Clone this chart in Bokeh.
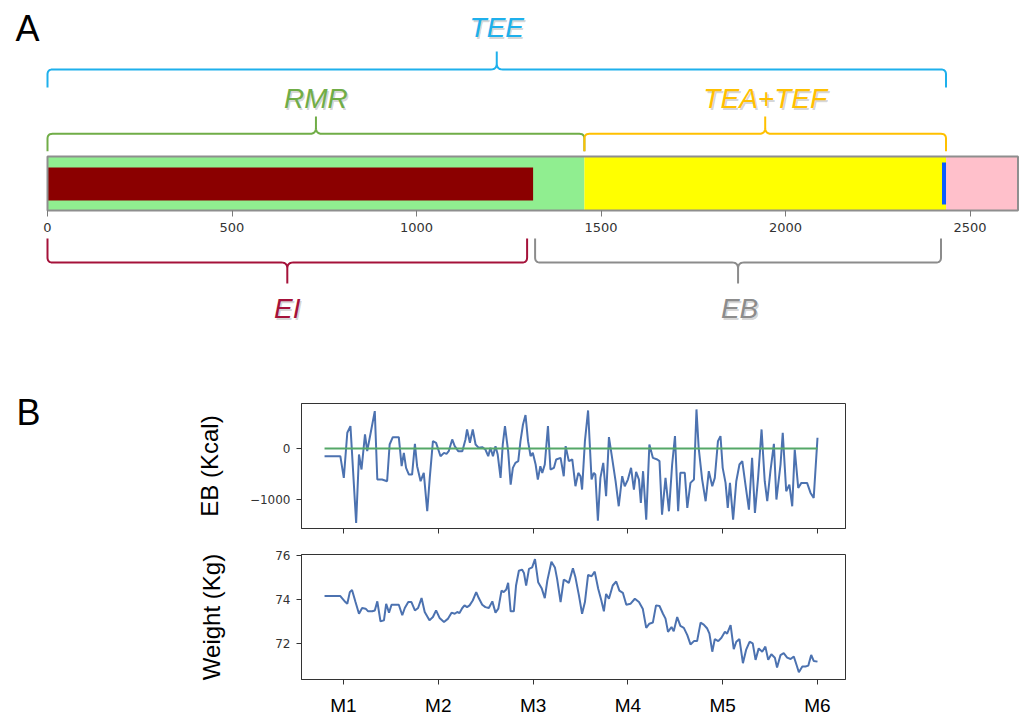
import numpy as np
from bokeh.plotting import figure
from bokeh.models import Range1d, FixedTicker, ColumnDataSource, Spacer
from bokeh.layouts import column, row
from bokeh.embed import file_html
from bokeh.resources import INLINE
from bokeh.core.properties import value

# ---------------- Panel A values (kcal) ----------------
EI = 1316          # energy intake
RMR = 1455         # resting metabolic rate
TEE = 2435         # total energy expenditure (RMR + TEA + TEF)
AXIS_MAX = 2630    # right end of the bar axis
a_ticks = [0, 500, 1000, 1500, 2000, 2500]

# ---------------- Panel B values ----------------
month_days = [0, 30, 60, 90, 120, 150]
month_labels = ["M1", "M2", "M3", "M4", "M5", "M6"]

eb_day = [-6.0, -1.0, 0.1, 1.2, 2.2, 4.0, 4.9, 5.7, 6.8, 7.5, 8.2, 9.9, 10.7, 12.2, 13.8, 14.6,
          15.6, 17.5, 18.4, 19.1, 19.8, 20.7, 21.7, 22.6, 23.3, 24.4, 25.4, 26.5, 27.3, 28.3, 29.3,
          30.7, 31.8, 32.6, 33.3, 34.4, 35.2, 36.3, 37.6, 38.6, 39.1, 40.0, 40.9, 41.8, 42.8, 43.9,
          44.9, 45.8, 46.5, 47.3, 48.1, 48.8, 49.7, 50.4, 51.1, 52.1, 52.9, 53.6, 54.4, 55.3, 56.0,
          56.8, 57.6, 58.4, 59.2, 59.9, 60.8, 61.5, 62.3, 62.9, 63.7, 64.7, 65.5, 66.6, 67.3, 68.7,
          69.7, 70.3, 71.3, 72.4, 73.4, 74.3, 75.0, 75.5, 76.4, 77.4, 78.5, 79.2, 79.7, 80.5, 81.3,
          82.2, 83.1, 84.0, 85.0, 86.1, 87.1, 88.2, 89.0, 90.0, 91.0, 91.9, 92.6, 93.5, 94.1, 94.8,
          95.8, 96.8, 97.9, 99.3, 100.0, 100.8, 101.9, 103.0, 104.0, 104.9, 105.9, 106.6, 108.0,
          108.8, 109.8, 110.9, 111.7, 112.4, 113.5, 114.6, 115.6, 116.7, 117.5, 118.5, 119.3, 120.0,
          120.9, 121.6, 122.3, 123.3, 124.3, 125.3, 126.2, 127.2, 128.3, 129.3, 130.2, 131.2, 132.3,
          133.3, 134.1, 135.1, 136.2, 137.0, 138.3, 139.0, 140.1, 141.1, 142.0, 142.8, 143.9, 144.9,
          146.7, 147.8, 148.8, 150.0]
eb_kcal = [-152, -152, -580, 310, 442, -1470, -119, -415, 277, -53, 178, 738, -613, -613, -646, 79,
           224, 224, -349, -86, -382, -514, -514, 92, -349, -646, -481, -1239, -580, 145, 112,
           -152, -86, -105, -53, 178, 46, -53, -53, 178, 376, 112, 376, 79, 13, 26,
           -20, -152, 13, -152, 46, -119, -580, 79, 442, -53, -712, -382, -283, -250, 145,
           474, 659, 145, -152, -86, -316, -613, -349, -481, -316, 442, -415, -382, -217, -185,
           -547, 46, -250, -217, -745, -481, -547, -810, 145, 751, -613, -481, -514, -1423, -580,
           -283, -942, 224, -185, -646, -1140, -547, -745, -613, -382, -810, -461, -613, -1074, -448,
           -1404, 79, -185, -217, -250, -1305, -580, -1239, -316, 244, -1239, -481, -481,
           -1173, -679, -613, 771, 13, -613, -1041, -448, -745, -580, 145, 244, -382,
           -679, -1173, -679, -1404, -646, -316, -250, -712, -1206, -185, -1272, -580, 376,
           -646, -1041, -448, 92, -1008, -316, 310, -844, -712, -1140, -20, -778, -679,
           -679, -877, -975, 211]

wt_day = [-6.0, -1.0, 0.6, 1.2, 2.0, 2.7, 3.8, 4.9, 5.9, 7.0, 7.8, 9.1, 9.9, 10.7, 11.7, 12.8,
          13.5, 14.4, 15.2, 16.3, 17.5, 18.6, 19.4, 20.5, 21.5, 22.6, 23.6, 24.7, 25.7, 27.2, 28.3,
          29.3, 30.4, 31.8, 33.1, 34.2, 35.2, 36.0, 36.7, 37.6, 38.3, 39.1, 39.9, 40.9, 42.0, 42.8,
          43.9, 44.9, 46.0, 47.1, 48.1, 49.0, 50.0, 50.7, 51.5, 52.1, 52.9, 53.9, 54.6, 55.5, 56.5,
          57.1, 57.8, 58.7, 59.7, 60.6, 61.6, 62.7, 63.7, 64.5, 65.8, 66.9, 67.6, 68.7, 69.7,
          70.3, 71.3, 72.6, 73.4, 74.5, 75.5, 76.4, 77.4, 78.5, 79.5, 80.6, 81.6, 82.4, 83.1, 84.0,
          85.2, 86.3, 87.3, 88.4, 89.5, 90.8, 92.2, 93.5, 94.7, 95.8, 96.8, 97.9, 98.9, 100.0, 101.1,
          101.9, 102.7, 103.8, 104.5, 105.6, 106.6, 107.7, 108.8, 109.8, 110.9, 111.9, 113.0, 114.0,
          115.1, 115.8, 116.7, 117.5, 118.6, 119.6, 120.7, 121.4, 122.5, 123.5, 124.3, 125.3, 126.4,
          127.4, 128.5, 129.5, 130.4, 131.4, 132.5, 133.5, 134.4, 135.4, 136.5, 137.2, 138.3, 139.3,
          140.4, 141.5, 142.5, 143.3, 144.1, 145.2, 146.2, 147.1, 148.0, 148.8, 150.0]
wt_kg = [74.16, 74.16, 73.89, 73.81, 74.34, 74.44, 73.89, 73.36, 73.62, 73.59, 73.47, 73.47, 73.51,
         73.92, 73.02, 73.06, 73.81, 73.41, 73.77, 73.77, 73.77, 73.29, 73.62, 73.89, 73.89, 73.51,
         73.62, 74.07, 73.44, 73.06, 73.21, 73.51, 73.17, 72.99, 73.14, 73.41, 73.36, 73.44, 73.39,
         73.62, 73.74, 73.66, 73.74, 73.96, 74.34, 74.07, 73.77, 73.66, 73.62, 73.92, 73.41, 73.59,
         74.41, 74.34, 74.46, 74.76, 73.47, 73.47, 74.64, 75.31, 75.36, 75.21, 74.64, 75.39, 75.46,
         75.84, 74.79, 74.52, 74.07, 74.86, 75.72, 75.46, 74.94, 73.89, 74.91,
         74.86, 74.76, 75.42, 75.01, 74.19, 73.36, 73.89, 75.12, 75.06, 75.27, 74.49, 73.96, 73.47,
         74.26, 74.04, 74.64, 74.82, 74.41, 74.31, 73.77, 73.81, 74.04, 73.89, 73.59, 72.72, 72.91,
         72.96, 73.74, 73.71, 73.36, 73.14, 72.54, 72.76, 72.57, 73.21, 72.81, 72.72, 72.39, 71.97,
         72.12, 72.12, 72.96, 72.87, 72.69, 72.46, 71.64, 72.21, 72.12, 72.27, 72.54, 72.46, 72.84,
         71.76, 72.09, 72.21, 71.12, 71.72, 72.09, 72.02, 71.27, 71.79, 71.64, 71.87, 71.27, 71.52,
         71.37, 70.92, 71.49, 71.57, 71.37, 71.31, 71.42, 71.07, 70.71, 70.97, 70.97, 71.01, 71.49,
         71.22, 71.19]
eb_ticks = [-1000, 0]
wt_ticks = [72, 74, 76]

# ---------------- colours ----------------
C_TEE = "#1EB0EC"
C_RMR = "#70AD47"
C_TEA = "#FFC000"
C_EI = "#A5123A"
C_EB = "#8C8C8C"
BLUE = "#4C72B0"
GREEN = "#55A868"

# ================= Panel A =================
KX = 1 / 0.369   # kcal per screen pixel in panel A
pa = figure(width=1022, height=340, x_range=Range1d(-47 * KX, (1022 - 47) * KX),
            y_range=Range1d(340, 0), output_backend="svg", toolbar_location=None,
            y_axis_location=None, min_border=0)
pa.frame_align = False
pa.outline_line_color = None
pa.grid.visible = False

# stacked bar
pa.hbar(y=183, left=0, right=RMR, height=54, fill_color="#90EE90", line_color=None)
pa.hbar(y=183, left=RMR, right=TEE, height=54, fill_color="#FFFF00", line_color=None)
pa.hbar(y=183, left=TEE, right=AXIS_MAX, height=54, fill_color="#FFC0CB", line_color=None)
pa.hbar(y=183.6, left=0, right=EI, height=33, fill_color="#8B0000", line_color=None)
pa.segment(x0=[TEE - 2 * KX], x1=[TEE - 2 * KX], y0=[162], y1=[204], line_color="#0A5CFF", line_width=4)
pa.hbar(y=183, left=0, right=AXIS_MAX, height=54, fill_color=None, line_color="#8E8E8E", line_width=2)

ax = pa.xaxis[0]
ax.fixed_location = 210
ax.ticker = FixedTicker(ticks=a_ticks)
ax.axis_line_color = None
ax.major_tick_line_color = "#7a7a7a"
ax.major_tick_out = 6
ax.major_tick_in = 0
ax.minor_tick_line_color = None
ax.major_label_text_font = "DejaVu Sans"
ax.major_label_text_font_size = "13px"
ax.major_label_text_color = "#333333"
ax.major_label_standoff = 6


def quad(p0, c, p2, n=8):
    t = np.linspace(0, 1, n)
    x = (1 - t) ** 2 * p0[0] + 2 * (1 - t) * t * c[0] + t ** 2 * p2[0]
    y = (1 - t) ** 2 * p0[1] + 2 * (1 - t) * t * c[1] + t ** 2 * p2[1]
    return list(x), list(y)


def brace(x0, x1, h, arm, tip, d, r=5, s=6):
    c = (x0 + x1) / 2
    xs, ys = [x0], [h + d * arm]

    def add(p0, ctrl, p2):
        qx, qy = quad(p0, ctrl, p2)
        xs.extend(qx)
        ys.extend(qy)

    add((x0, h + d * r), (x0, h), (x0 + r * KX, h))
    add((c - s * KX, h), (c, h), (c, h - d * s))
    xs.append(c)
    ys.append(h - d * tip)
    add((c, h - d * s), (c, h), (c + s * KX, h))
    add((x1 - r * KX, h), (x1, h), (x1, h + d * r))
    xs.append(x1)
    ys.append(h + d * arm)
    return xs, ys


braces = [
    (0, TEE, 69, 18, 18, 1, C_TEE),
    (0, RMR, 133.3, 17.4, 17.3, 1, C_RMR),
    (RMR, TEE, 133.3, 17.4, 17.3, 1, C_TEA),
    (0, EI - 6 * KX, 262, 24, 21, -1, C_EI),
    (EI + 2 * KX, TEE - 5 * KX, 262, 24, 21, -1, C_EB),
]
for x0, x1, h, arm, tip, d, col in braces:
    bx, by = brace(x0, x1, h, arm, tip, d)
    pa.line(bx, by, line_color=col, line_width=2)

lab = ColumnDataSource(dict(
    x=[TEE / 2, RMR / 2, (RMR + TEE) / 2, (EI - 6 * KX) / 2, (EI + TEE) / 2],
    y=[27, 98, 98, 308, 308],
    t=["TEE", "RMR", "TEA+TEF", "EI", "EB"],
    c=[C_TEE, C_RMR, C_TEA, C_EI, C_EB],
))
pa.text(x="x", y="y", text="t", source=lab, text_color="#000000", text_alpha=0.18,
        x_offset=1.5, y_offset=1.5, text_font=value("Liberation Sans"), text_font_style="italic",
        text_font_size="28px", text_align="center", text_baseline="middle")
pa.text(x="x", y="y", text="t", source=lab, text_color="c",
        text_font=value("Liberation Sans"), text_font_style="italic",
        text_font_size="28px", text_align="center", text_baseline="middle")
pa.text(x=[-47 * KX], y=[28], text=["A"], x_offset=15, text_font=value("Liberation Sans"),
        text_font_size="36px", text_color="black", text_align="left", text_baseline="middle")

# ================= Panel B =================
LW = 60              # width of the strip that holds the "B" letter
MPX = 94.8 / 30      # screen pixels per day
XR = (-(343 - 301) / MPX, (845 - 343) / MPX)

pl = figure(width=LW, height=210, x_range=Range1d(0, LW), y_range=Range1d(210, 0),
            output_backend="svg", toolbar_location=None, min_border=0,
            x_axis_location=None, y_axis_location=None)
pl.frame_align = False
pl.outline_line_color = None
pl.grid.visible = False
pl.text(x=[16], y=[72], text=["B"], text_font=value("Liberation Sans"), text_font_size="36px",
        text_color="black", text_align="left", text_baseline="middle")


def style_b(p):
    p.grid.visible = False
    p.outline_line_color = "#333333"
    p.outline_line_width = 1
    for a in (p.xaxis[0], p.yaxis[0]):
        a.axis_line_color = "#333333"
        a.major_tick_line_color = "#333333"
        a.major_tick_out = 5
        a.major_tick_in = 0
        a.minor_tick_line_color = None
        a.major_label_text_font = "DejaVu Sans"
        a.major_label_text_font_size = "12px"
        a.major_label_text_color = "#333333"
        a.major_label_standoff = 6
        a.axis_label_text_font = "Liberation Sans"
        a.axis_label_text_font_style = "normal"
        a.axis_label_text_font_size = "24px"
        a.axis_label_text_color = "black"
    p.xaxis[0].ticker = FixedTicker(ticks=month_days)


pb1 = figure(width=1022 - LW, height=210, x_range=Range1d(*XR), y_range=Range1d(-1579, 888),
             output_backend="svg", toolbar_location=None,
             min_border_left=301 - LW, min_border_right=177, min_border_top=63, min_border_bottom=22)
style_b(pb1)
pb1.xaxis[0].major_label_overrides = {d: "" for d in month_days}
pb1.yaxis[0].ticker = FixedTicker(ticks=eb_ticks)
pb1.yaxis[0].major_label_overrides = {-1000: "\u22121000", 0: "0"}
pb1.yaxis[0].axis_label = "EB (Kcal)"
pb1.yaxis[0].axis_label_standoff = 24
pb1.line(eb_day, eb_kcal, line_color=BLUE, line_width=2)
pb1.line([eb_day[0], eb_day[-1]], [0, 0], line_color=GREEN, line_width=2)

pb2 = figure(width=1022 - LW, height=168, x_range=Range1d(*XR), y_range=Range1d(70.38, 76.045),
             output_backend="svg", toolbar_location=None,
             min_border_left=301 - LW, min_border_right=177, min_border_top=4, min_border_bottom=38)
style_b(pb2)
pb2.xaxis[0].major_label_overrides = dict(zip(month_days, month_labels))
pb2.xaxis[0].major_label_text_font = "Liberation Sans"
pb2.xaxis[0].major_label_text_font_size = "19px"
pb2.xaxis[0].major_label_text_color = "black"
pb2.xaxis[0].major_label_standoff = 10
pb2.yaxis[0].ticker = FixedTicker(ticks=wt_ticks)
pb2.yaxis[0].axis_label = "Weight (Kg)"
pb2.yaxis[0].axis_label_standoff = 47
pb2.line(wt_day, wt_kg, line_color=BLUE, line_width=2)

layout = column(pa,
                row(pl, pb1, spacing=0),
                row(Spacer(width=LW, height=168), pb2, spacing=0),
                spacing=0)
open("out.html", "w").write(file_html(layout, INLINE))
